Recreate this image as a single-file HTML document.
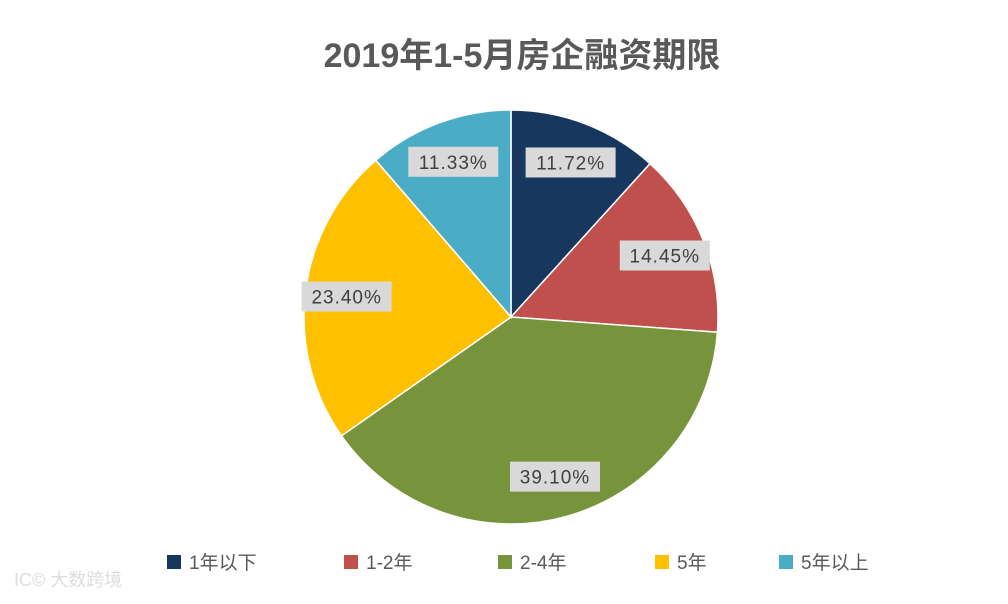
<!DOCTYPE html>
<html><head><meta charset="utf-8"><style>
body{margin:0;background:#fff;width:1008px;height:599px;overflow:hidden;font-family:"Liberation Sans","Noto Sans CJK SC",sans-serif}
</style></head><body>
<svg width="1008" height="599">
<text x="522" y="67" text-anchor="middle" font-size="34" font-weight="bold" fill="#595959" font-family="Liberation Sans, Noto Sans CJK SC, sans-serif">2019年1-5月房企融资期限</text>
<g id="slices"></g><g id="labels"></g><g id="legend"></g>
<text x="14" y="586" font-size="18" fill="#ddd" font-family="Liberation Sans, Noto Sans CJK SC, sans-serif">IC© 大数跨境</text>
</svg>
<script>
const categories=["1年以下","1-2年","2-4年","5年","5年以上"];
const values=[11.72,14.45,39.10,23.40,11.33];
const colors=["#17375E","#C0504D","#77933C","#FFC000","#4BACC6"];
const cx=511,cy=317,r=207,ns="http://www.w3.org/2000/svg";
const total=values.reduce((a,b)=>a+b,0);
const S=document.getElementById('slices'),L=document.getElementById('labels'),G=document.getElementById('legend');
let a0=-Math.PI/2;
const pt=(a,rr)=>[cx+rr*Math.cos(a),cy+rr*Math.sin(a)];
values.forEach((v,i)=>{
 const a1=a0+v/total*2*Math.PI;
 const [x0,y0]=pt(a0,r),[x1,y1]=pt(a1,r);
 const p=document.createElementNS(ns,'path');
 p.setAttribute('d',`M${cx},${cy}L${x0},${y0}A${r},${r} 0 ${a1-a0>Math.PI?1:0} 1 ${x1},${y1}Z`);
 p.setAttribute('fill',colors[i]);p.setAttribute('stroke','#fff');p.setAttribute('stroke-width','1.5');
 
 
 S.appendChild(p);
 const am=(a0+a1)/2;const [lx,ly]=pt(am,r*0.8);
 const g=document.createElementNS(ns,'g');
 
 
 const rc=document.createElementNS(ns,'rect');
 rc.setAttribute('x',lx-45);rc.setAttribute('y',ly-15);rc.setAttribute('width',90);rc.setAttribute('height',30);rc.setAttribute('fill','#D9D9D9');
 const t=document.createElementNS(ns,'text');
 t.setAttribute('x',lx);t.setAttribute('y',ly+7);t.setAttribute('text-anchor','middle');t.setAttribute('font-size','19');t.setAttribute('fill','#404040');t.setAttribute('letter-spacing','1');
 t.textContent=v.toFixed(2)+'%';
 g.appendChild(rc);g.appendChild(t);L.appendChild(g);
 a0=a1;
});
const lx=[167,344,498,655,779];
categories.forEach((c,i)=>{
 const g=document.createElementNS(ns,'g');
 
 
 const rc=document.createElementNS(ns,'rect');
 rc.setAttribute('x',lx[i]);rc.setAttribute('y',555);rc.setAttribute('width',14);rc.setAttribute('height',14);rc.setAttribute('fill',colors[i]);
 const t=document.createElementNS(ns,'text');
 t.setAttribute('x',lx[i]+22);t.setAttribute('y',569);t.setAttribute('font-size','19');t.setAttribute('fill','#595959');
 t.textContent=c;
 g.appendChild(rc);g.appendChild(t);G.appendChild(g);
});
</script>
</body></html>
